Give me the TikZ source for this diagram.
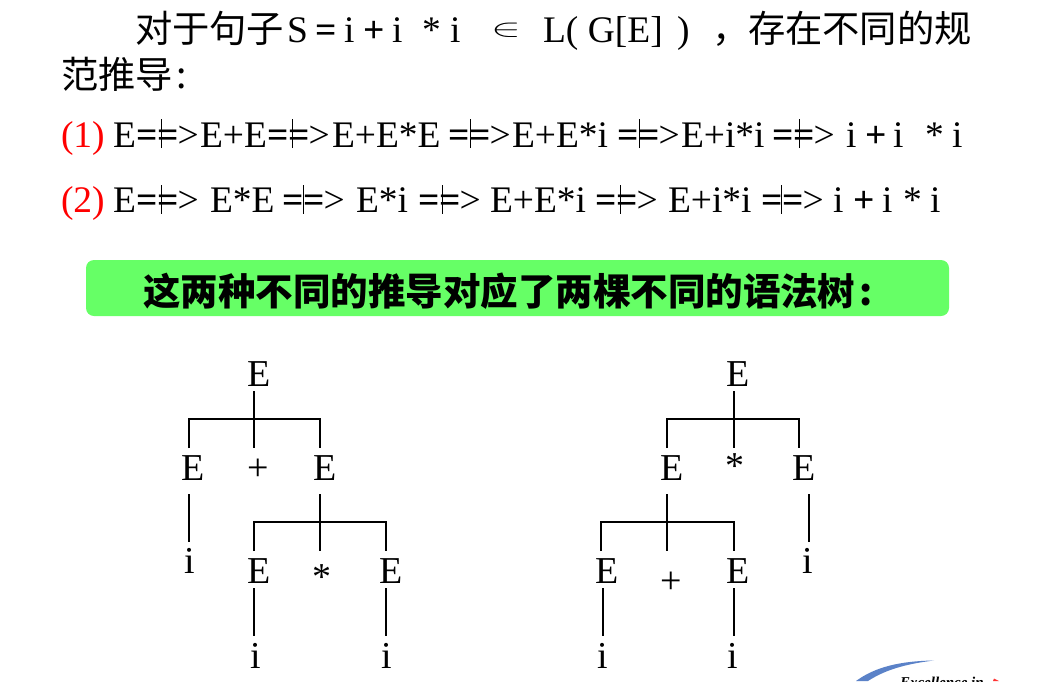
\documentclass[tikz,border=0pt]{standalone}
\usepackage{fontspec}
\setmainfont{Liberation Serif}
\newfontfamily\cjk{Noto Sans CJK SC}
\usetikzlibrary{calc}
\newcommand\drv[1]{\rlap{\kern#1\raisebox{-1pt}{\rule{0.9pt}{29pt}}}{\bfseries ==}\kern-1pt>}
\newcommand\pc[4]{\node[txt] (#1) at (#2,#3) {#4};}
\newcommand\hz{\fontsize{37.3}{40}\selectfont\cjk}
\definecolor{banner}{HTML}{66FF66}
\definecolor{logoblue}{HTML}{5B82C8}
\tikzset{
 txt/.style={anchor=base west,inner sep=0pt,outer sep=0pt,font=\fontsize{37.5}{40}\selectfont},
 sym/.style={anchor=base,inner sep=0pt,outer sep=0pt,font=\fontsize{38}{40}\selectfont,text height=#1,text depth=5pt},
 sym/.default=32pt,
 lnk/.style={line width=1.2pt,line cap=butt}
}
\begin{document}
\begin{tikzpicture}[x=1pt,y=-1pt]
\useasboundingbox (0,0) rectangle (1042,681);
\clip (0,0) rectangle (1042,681);
% title
\pc{t1}{135}{42}{\hz 对于句子}
\pc{t2}{287}{42}{S}
\pc{t3}{315}{42}{\bfseries =}
\pc{t4}{344}{42}{i}
\pc{t5}{363}{42}{\bfseries +}
\pc{t6}{392}{42}{i}
\pc{t7}{422}{42}{*}
\pc{t8}{450}{42}{i}
\pc{t9}{491}{42}{\raisebox{6pt}{\scalebox{1.8}[1]{$\in$}}}
\pc{t10}{543}{42}{L( G[E]}
\pc{t11}{677}{42}{)}
\pc{t12}{712}{42}{\hz ，}
\pc{t13}{748}{42}{\hz 存在不同的规}
\pc{t14}{61}{88}{\hz 范推导}
\pc{t15}{176}{88}{\hz :}
% line 1
\pc{a0}{61}{147}{\color{red}(1)}
\pc{a1}{113}{147}{E}
\pc{a2}{136}{147}{\drv{25pt}}
\pc{a3}{200}{147}{E+E}
\pc{a4}{267}{147}{\drv{25pt}}
\pc{a5}{332}{147}{E+E*E}
\pc{a6}{448}{147}{\drv{22pt}}
\pc{a7}{512}{147}{E+E*i}
\pc{a8}{617}{147}{\drv{22pt}}
\pc{a9}{681}{147}{E+i*i}
\pc{a10}{772}{147}{\drv{27pt}}
\pc{a11}{846}{147}{i}
\pc{a12}{865}{147}{\bfseries +}
\pc{a13}{893}{147}{i}
\pc{a14}{925}{147}{*}
\pc{a15}{952}{147}{i}
% line 2
\pc{b0}{61}{212.5}{\color{red}(2)}
\pc{b1}{113}{212.5}{E}
\pc{b2}{136}{212.5}{\drv{25pt}}
\pc{b3}{210}{212.5}{E*E}
\pc{b4}{282}{212.5}{\drv{21pt}}
\pc{b5}{356}{212.5}{E*i}
\pc{b6}{418}{212.5}{\drv{24pt}}
\pc{b7}{490}{212.5}{E+E*i}
\pc{b8}{595}{212.5}{\drv{25pt}}
\pc{b9}{668}{212.5}{E+i*i}
\pc{b10}{761}{212.5}{\drv{20pt}}
\pc{b11}{833}{212.5}{i}
\pc{b12}{853}{212.5}{\bfseries +}
\pc{b13}{882}{212.5}{i}
\pc{b14}{903}{212.5}{*}
\pc{b15}{930}{212.5}{i}
% banner
\fill[banner,rounded corners=8pt] (86,260) rectangle (949,316);
\node[txt,font=\fontsize{37.5}{40}\selectfont\cjk\bfseries] (bt) at (143,305) {这两种不同的推导对应了两棵不同的语法树};
\node[txt,font=\fontsize{37.5}{40}\selectfont\cjk\bfseries] (bc) at (859,305) {:};
% tree 1
\node[sym] (r1) at (259,386) {E};
\node[sym={32pt},text depth=14pt] (l1) at (193,480) {E};
\node[sym={32pt}] (p1) at (258,480) {+};
\node[sym={32pt},text depth=14pt] (m1) at (325,480) {E};
\node[sym={31pt}] (i1) at (190,573) {i};
\node[sym] (u1) at (259,583) {E};
\node[sym={38pt}] (s1) at (322,589) {*};
\node[sym] (v1) at (391,583) {E};
\node[sym] (i2) at (256,668) {i};
\node[sym] (i3) at (387,668) {i};
\coordinate (j1) at (254,419);
\coordinate (j2) at (320,522);
\draw[lnk] ([xshift=-5pt]r1.south) -- (j1);
\draw[lnk] ([xshift=-4pt]l1.north) |- (j1) -| ([xshift=-5pt]m1.north);
\draw[lnk] (j1) -- (j1 |- p1.north);
\draw[lnk] ([xshift=-4pt]l1.south) -- ([xshift=-1pt]i1.north);
\draw[lnk] ([xshift=-5pt]m1.south) -- (j2);
\draw[lnk] ([xshift=-5pt]u1.north) |- (j2) -| ([xshift=-5pt]v1.north);
\draw[lnk] (j2) -- (j2 |- s1.north);
\draw[lnk] ([xshift=-5pt]u1.south) -- ([xshift=-2pt]i2.north);
\draw[lnk] ([xshift=-5pt]v1.south) -- ([xshift=-1pt]i3.north);
% tree 2
\node[sym] (r2) at (738,386) {E};
\node[sym={32pt},text depth=14pt] (l2) at (672,480) {E};
\node[sym={30pt}] (s2) at (735,478) {*};
\node[sym={32pt},text depth=14pt] (m2) at (804,480) {E};
\node[sym={31pt}] (i4) at (808,573) {i};
\node[sym] (u2) at (607,583) {E};
\node[sym={42pt}] (p2) at (671,593) {+};
\node[sym] (v2) at (738,583) {E};
\node[sym] (i5) at (603,668) {i};
\node[sym] (i6) at (733,668) {i};
\coordinate (j3) at (734,419);
\coordinate (j4) at (667,522);
\draw[lnk] ([xshift=-4pt]r2.south) -- (j3);
\draw[lnk] ([xshift=-5pt]l2.north) |- (j3) -| ([xshift=-5pt]m2.north);
\draw[lnk] (j3) -- (j3 |- s2.north);
\draw[lnk] ([xshift=5pt]m2.south) -- ([xshift=1pt]i4.north);
\draw[lnk] ([xshift=-5pt]l2.south) -- (j4);
\draw[lnk] ([xshift=-6pt]u2.north) |- (j4) -| ([xshift=-4pt]v2.north);
\draw[lnk] (j4) -- (j4 |- p2.north);
\draw[lnk] ([xshift=-4pt]u2.south) -- (i5.north);
\draw[lnk] ([xshift=-4pt]v2.south) -- ([xshift=1pt]i6.north);
% logo
\fill[logoblue] (856,681) .. controls (875,667) and (900,661) .. (934,660.5) .. controls (905,664) and (885,670) .. (868,681) -- cycle;
\node[txt,font=\bfseries\itshape\fontsize{15}{18}\selectfont] (lg) at (900,687) {Excellence in};
\fill[red!80!white] (993,681) -- (994,678.5) -- (999,681) -- cycle;
\end{tikzpicture}
\end{document}
